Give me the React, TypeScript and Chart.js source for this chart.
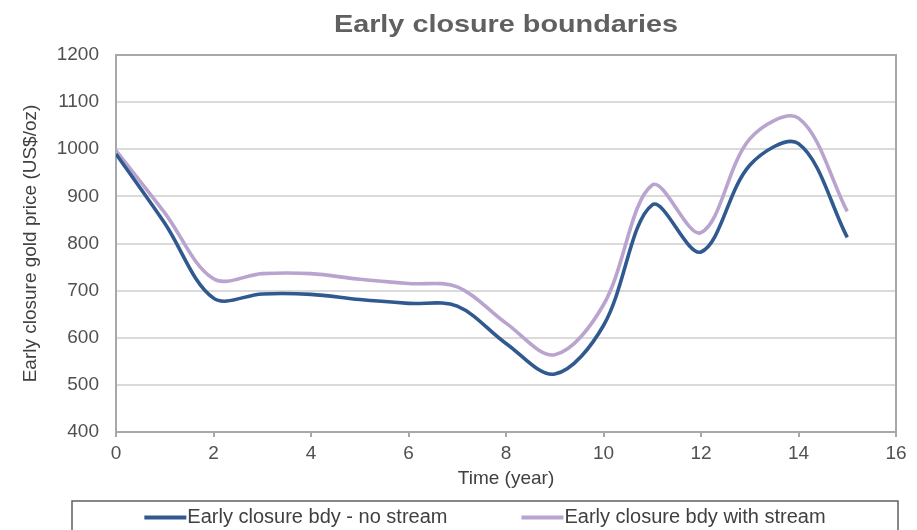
import { useEffect, useRef } from "react";
import { Chart, registerables } from "chart.js";

Chart.register(...registerables);

// Time in years
const years = [0, 1, 2, 3, 4, 5, 6, 7, 8, 9, 10, 11, 12, 13, 14, 15];
// Early closure gold price boundary (US$/oz), no stream
const noStream = [990, 843, 684, 693, 692, 681, 673, 667, 588, 523, 626, 882, 782, 966, 1012, 813];
// Early closure gold price boundary (US$/oz), with stream
const withStream = [997, 865, 725, 736, 736, 724, 715, 708, 631, 564, 670, 924, 823, 1022, 1066, 868];

const seriesLabels = ["Early closure bdy - no stream", "Early closure bdy with stream"];
const seriesColors = ["#30598f", "#b8a4cf"];

const chartTitle = "Early closure boundaries";
const xAxisTitle = "Time (year)";
const yAxisTitle = "Early closure gold price (US$/oz)";
const xRange = [0, 16];
const yRange = [400, 1200];

const FONT = "'Liberation Sans', Arial, sans-serif";

// Grey frame on the top and right edges of the plot area
const framePlugin = {
  id: "plotFrame",
  afterDatasetsDraw(chart: any) {
    const { ctx, chartArea } = chart;
    ctx.save();
    ctx.strokeStyle = "#a8a8a8";
    ctx.lineWidth = 2;
    ctx.beginPath();
    ctx.moveTo(chartArea.left, chartArea.top);
    ctx.lineTo(chartArea.right, chartArea.top);
    ctx.lineTo(chartArea.right, chartArea.bottom);
    ctx.stroke();
    ctx.restore();
  },
};

// Bold title centred over the plot area, slightly widened
const titlePlugin = {
  id: "plotTitle",
  afterDraw(chart: any) {
    const { ctx, chartArea } = chart;
    const cx = (chartArea.left + chartArea.right) / 2;
    ctx.save();
    ctx.font = `bold 24px ${FONT}`;
    ctx.fillStyle = "#606060";
    ctx.textAlign = "center";
    ctx.textBaseline = "alphabetic";
    ctx.translate(cx, 32);
    ctx.scale(1.2, 1.02);
    ctx.fillText(chartTitle, 0, 0);
    ctx.restore();
  },
};

// Boxed legend along the bottom edge
const legendPlugin = {
  id: "boxLegend",
  afterDraw(chart: any) {
    const { ctx } = chart;
    const boxLeft = 72;
    const boxRight = 898;
    const boxTop = 501;
    const rowY = 517;
    const sample = 42;
    const gapAfterSample = 1;
    const itemGap = 74;
    ctx.save();
    ctx.strokeStyle = "#5f5f5f";
    ctx.lineWidth = 1.5;
    ctx.strokeRect(boxLeft, boxTop, boxRight - boxLeft, 60);

    ctx.font = `20px ${FONT}`;
    const items = chart.data.datasets.map((ds: any) => ({
      label: ds.label as string,
      color: ds.borderColor as string,
      width: ctx.measureText(ds.label).width,
    }));
    const total =
      items.reduce((s: number, it: any) => s + sample + gapAfterSample + it.width, 0) +
      itemGap * (items.length - 1);
    let x = (boxLeft + boxRight) / 2 - total / 2;
    ctx.textBaseline = "middle";
    ctx.textAlign = "left";
    for (const it of items) {
      ctx.strokeStyle = it.color;
      ctx.lineWidth = 4;
      ctx.beginPath();
      ctx.moveTo(x, rowY + 0.5);
      ctx.lineTo(x + sample, rowY + 0.5);
      ctx.stroke();
      x += sample + gapAfterSample;
      ctx.fillStyle = "#404040";
      ctx.fillText(it.label, x, rowY);
      x += it.width + itemGap;
    }
    ctx.restore();
  },
};

export default function App() {
  const canvasRef = useRef<HTMLCanvasElement | null>(null);

  useEffect(() => {
    const canvas = canvasRef.current;
    if (!canvas) return;
    const toPoints = (vals: number[]) => years.map((t, i) => ({ x: t, y: vals[i] }));
    const chart = new Chart(canvas, {
      type: "line",
      data: {
        datasets: [
          {
            label: seriesLabels[0],
            data: toPoints(noStream),
            borderColor: seriesColors[0],
            backgroundColor: seriesColors[0],
            borderWidth: 3.6,
            pointRadius: 0,
            tension: 0.34,
            fill: false,
          },
          {
            label: seriesLabels[1],
            data: toPoints(withStream),
            borderColor: seriesColors[1],
            backgroundColor: seriesColors[1],
            borderWidth: 3.6,
            pointRadius: 0,
            tension: 0.34,
            fill: false,
          },
        ],
      },
      options: {
        animation: false,
        responsive: true,
        maintainAspectRatio: false,
        layout: { padding: { top: 55, right: 21, bottom: 40, left: 0 } },
        plugins: {
          legend: { display: false },
          title: { display: false },
          tooltip: { enabled: false },
        },
        scales: {
          x: {
            type: "linear",
            min: xRange[0],
            max: xRange[1],
            afterFit: (scale: any) => {
              scale.height = 58;
            },
            ticks: {
              stepSize: 2,
              padding: 5,
              color: "#505050",
              font: { family: FONT, size: 19 },
              callback: (v: any) => String(v),
            },
            grid: {
              drawOnChartArea: false,
              drawTicks: true,
              tickLength: 5,
              color: "#a8a8a8",
              lineWidth: 2,
            },
            border: { color: "#a8a8a8", width: 2 },
            title: {
              display: true,
              text: xAxisTitle,
              color: "#404040",
              font: { family: FONT, size: 19 },
              padding: { top: 0, bottom: 0 },
            },
          },
          y: {
            type: "linear",
            min: yRange[0],
            max: yRange[1],
            afterFit: (scale: any) => {
              scale.width = 116;
            },
            ticks: {
              stepSize: 100,
              padding: 17,
              color: "#505050",
              font: { family: FONT, size: 19 },
              callback: (v: any) => String(v),
            },
            grid: {
              drawTicks: false,
              color: "#dadada",
              lineWidth: 2,
            },
            border: { color: "#a8a8a8", width: 2 },
            title: {
              display: true,
              text: yAxisTitle,
              color: "#404040",
              font: { family: FONT, size: 19 },
              padding: { top: 19, bottom: 0 },
            },
          },
        },
      },
      plugins: [framePlugin, titlePlugin, legendPlugin],
    });
    return () => chart.destroy();
  }, []);

  return (
    <div style={{ position: "absolute", left: 0, top: 0, width: 917, height: 530, background: "#ffffff" }}>
      <canvas ref={canvasRef} />
    </div>
  );
}
